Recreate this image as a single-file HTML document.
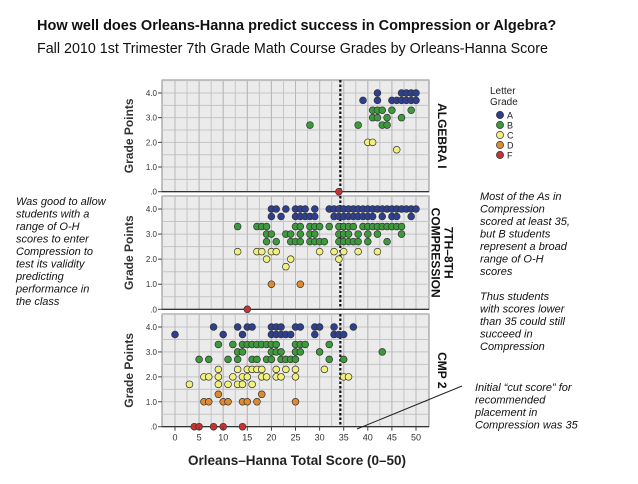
<!DOCTYPE html>
<html><head><meta charset="utf-8"><style>
body{margin:0;background:#fff;width:638px;height:479px;overflow:hidden;font-family:"Liberation Sans",sans-serif}
</style></head><body>
<svg id="c" width="638" height="479" xmlns="http://www.w3.org/2000/svg">
<text x="37" y="30" font-size="14.5" font-weight="bold" fill="#111">How well does Orleans-Hanna predict success in Compression or Algebra?</text>
<text x="37" y="53" font-size="14.3" fill="#111">Fall 2010 1st Trimester 7th Grade Math Course Grades by Orleans-Hanna Score</text>
<g id="panels"></g>
<text x="297" y="465" font-size="13.5" font-weight="bold" text-anchor="middle" fill="#222">Orleans–Hanna Total Score (0–50)</text>
<g>
<text x="490" y="94" font-size="10" fill="#222">Letter</text>
<text x="490" y="105" font-size="10" fill="#222">Grade</text>
</g>
<g id="legend"></g>
<g font-size="11" font-style="italic" fill="#111">
<text x="16" y="205">Was good to allow</text><text x="16" y="217.5">students with a</text><text x="16" y="230">range of O-H</text><text x="16" y="242.5">scores to enter</text><text x="16" y="255">Compression to</text><text x="16" y="267.5">test its validity</text><text x="16" y="280">predicting</text><text x="16" y="292.5">performance in</text><text x="16" y="305">the class</text>
</g>
<g font-size="11" font-style="italic" fill="#111">
<text x="480" y="200">Most of the As in</text><text x="480" y="212.5">Compression</text><text x="480" y="225">scored at least 35,</text><text x="480" y="237.5">but B students</text><text x="480" y="250">represent a broad</text><text x="480" y="262.5">range of O-H</text><text x="480" y="275">scores</text>
<text x="480" y="300">Thus students</text><text x="480" y="312.5">with scores lower</text><text x="480" y="325">than 35 could still</text><text x="480" y="337.5">succeed in</text><text x="480" y="350">Compression</text>
</g>
<g font-size="11" font-style="italic" fill="#111">
<text x="475" y="391">Initial “cut score” for</text><text x="475" y="403.5">recommended</text><text x="475" y="416">placement in</text><text x="475" y="428.5">Compression was 35</text>
</g>
<line x1="357" y1="429" x2="462" y2="386" stroke="#222" stroke-width="1"/>
</svg>
<script>
const gradeNames=["A","B","C","D","F"];
const gradeColors=["#2e3f8f","#3c9a3c","#f2f07c","#e08a30","#c93232"];
const cutScore=34.3;
const xTicks=[0,5,10,15,20,25,30,35,40,45,50];
const yTicks=[0,1,2,3,4];
const yTickLabels=[".0","1.0","2.0","3.0","4.0"];
const panelNames=["ALGEBRA I","7TH–8TH|COMPRESSION","CMP 2"];
// rows: [gradePoints, letterIndex, scores]
const algebraRows=[
[4.0,0,[42,47,48,49,50]],[3.7,0,[39,42,45,46,47,48,49,50]],
[3.3,1,[41,42,43,45,49]],[3.0,1,[41,42,44,47]],[2.7,1,[28,38,43,44]],
[2.0,2,[40,41]],[1.7,2,[46]],[0,4,[34]]];
const compressionRows=[
[4.0,0,[20,21,23,25,26,27,29,32,33,34,35,36,37,38,39,40,41,42,43,44,45,46,47,48,49,50]],
[3.7,0,[20,22,25,26,27,28,29,33,34,35,36,37,38,39,40,41,43,45,46,49]],
[3.3,1,[13,17,18,19,25,26,28,29,30,32,34,35,36,37,39,40,41,42,43,44,45,46,47]],
[3.0,1,[19,20,23,24,26,28,29,34,35,36,38,40,42,47]],
[2.7,1,[19,21,24,25,26,28,29,30,31,34,35,36,37,38,40,44]],
[2.3,2,[13,17,18,20,21,30,33,35,38,42]],[2.0,2,[19,24,34]],[1.7,2,[23]],
[1.0,3,[20,26]],[0,4,[15]]];
const cmpRows=[
[4.0,0,[8,13,15,16,20,21,22,25,26,29,30,33,37]],
[3.7,0,[0,10,14,20,21,22,23,24,29,33,34,35]],
[3.3,1,[9,12,14,15,16,17,18,19,20,21,25,26,27,32]],
[3.0,1,[13,14,20,21,22,25,26,30,43]],
[2.7,1,[5,7,11,13,16,17,19,20,22,23,24,25,32,35]],
[2.3,2,[9,13,15,16,17,18,21,23,25,31]],
[2.0,2,[6,7,9,12,14,15,18,19,21,22,25,35,36]],
[1.7,2,[3,9,11,13,14,16]],
[1.3,3,[9,18]],[1.0,3,[6,7,10,11,14,15,17,25]],
[0,4,[4,5,8,10,14]]];
const panelData=[algebraRows,compressionRows,cmpRows];

const NS="http://www.w3.org/2000/svg";
const L=162,R=429;
const X0=175,X1=416;
const xs=v=>X0+(X1-X0)*v/50;
const panelGeom=[{top:80,zero:191.7},{top:196,zero:309.3},{top:314,zero:426.7}];
function mk(tag,attrs,parent){const e=document.createElementNS(NS,tag);for(const k in attrs)e.setAttribute(k,attrs[k]);parent.appendChild(e);return e;}
const g=document.getElementById("panels");
panelData.forEach((rows,pi)=>{
  const pg=panelGeom[pi];
  const ys=v=>pg.zero-(pg.zero-pg.top-13)*v/4;
  const pnl=mk("g",{},g);
  
  
  mk("rect",{x:L,y:pg.top,width:R-L,height:pg.zero-pg.top,fill:"#ebebeb",stroke:"#888","stroke-width":1},pnl);
  for(let v=0.5;v<=4.5;v+=0.5){const y=ys(v);if(y<pg.top)continue;mk("line",{x1:L,x2:R,y1:y,y2:y,stroke:"#c4c4c4","stroke-width":1},pnl);}
  for(let v=2.5;v<=50;v+=2.5){mk("line",{x1:xs(v),x2:xs(v),y1:pg.top,y2:pg.zero,stroke:"#c4c4c4","stroke-width":1},pnl);}
  xTicks.forEach(v=>mk("line",{x1:xs(v),x2:xs(v),y1:pg.top,y2:pg.zero,stroke:"#b8b8b8","stroke-width":1},pnl));
  mk("line",{x1:L,x2:R,y1:pg.zero,y2:pg.zero,stroke:"#222","stroke-width":1.2},pnl);
  yTicks.forEach((v,i)=>{
    mk("line",{x1:L-4,x2:L,y1:ys(v),y2:ys(v),stroke:"#444"},pnl);
    const t=mk("text",{x:L-5,y:ys(v)+3,"font-size":8,"text-anchor":"end",fill:"#333"},pnl);
    t.textContent=yTickLabels[i];
  });
  const yt=mk("text",{transform:`translate(133,${(pg.top+pg.zero)/2}) rotate(-90)`,"font-size":12,"font-weight":"bold","text-anchor":"middle",fill:"#333"},pnl);
  
  
  yt.textContent="Grade Points";
  const lines=panelNames[pi].split("|");
  const cy=(pg.top+pg.zero)/2;
  lines.forEach((s,li)=>{
    const off=(li-(lines.length-1)/2)*13;
    const t=mk("text",{transform:`translate(${438-off},${cy}) rotate(90)`,"font-size":12,"font-weight":"bold","text-anchor":"middle",fill:"#111"},pnl);
    
    
    t.textContent=s;
  });
  const cl=mk("line",{x1:xs(cutScore),x2:xs(cutScore),y1:pg.top,y2:pg.zero,stroke:"#111","stroke-width":2.2,"stroke-dasharray":"2.5,2"},pnl);
  
  
  rows.forEach(r=>{
    r[2].forEach(s=>{
      const c=mk("circle",{cx:xs(s),cy:ys(r[0]),r:3.4,fill:gradeColors[r[1]],stroke:"#333","stroke-width":0.7},pnl);
      
      
    });
  });
});
const pg3=panelGeom[2];
xTicks.forEach(v=>{
  mk("line",{x1:xs(v),x2:xs(v),y1:pg3.zero,y2:pg3.zero+4,stroke:"#444"},g);
  const t=mk("text",{x:xs(v),y:pg3.zero+14,"font-size":9,"text-anchor":"middle",fill:"#333"},g);
  
  
  t.textContent=v;
});
const lg=document.getElementById("legend");
gradeNames.forEach((n,i)=>{
  const y=115+i*10;
  const c=mk("circle",{cx:500,cy:y,r:3.6,fill:gradeColors[i],stroke:"#333","stroke-width":0.7},lg);
  
  
  const t=mk("text",{x:507,y:y+3.5,"font-size":9,fill:"#222"},lg);
  
  
  t.textContent=n;
});
</script>
</body></html>
